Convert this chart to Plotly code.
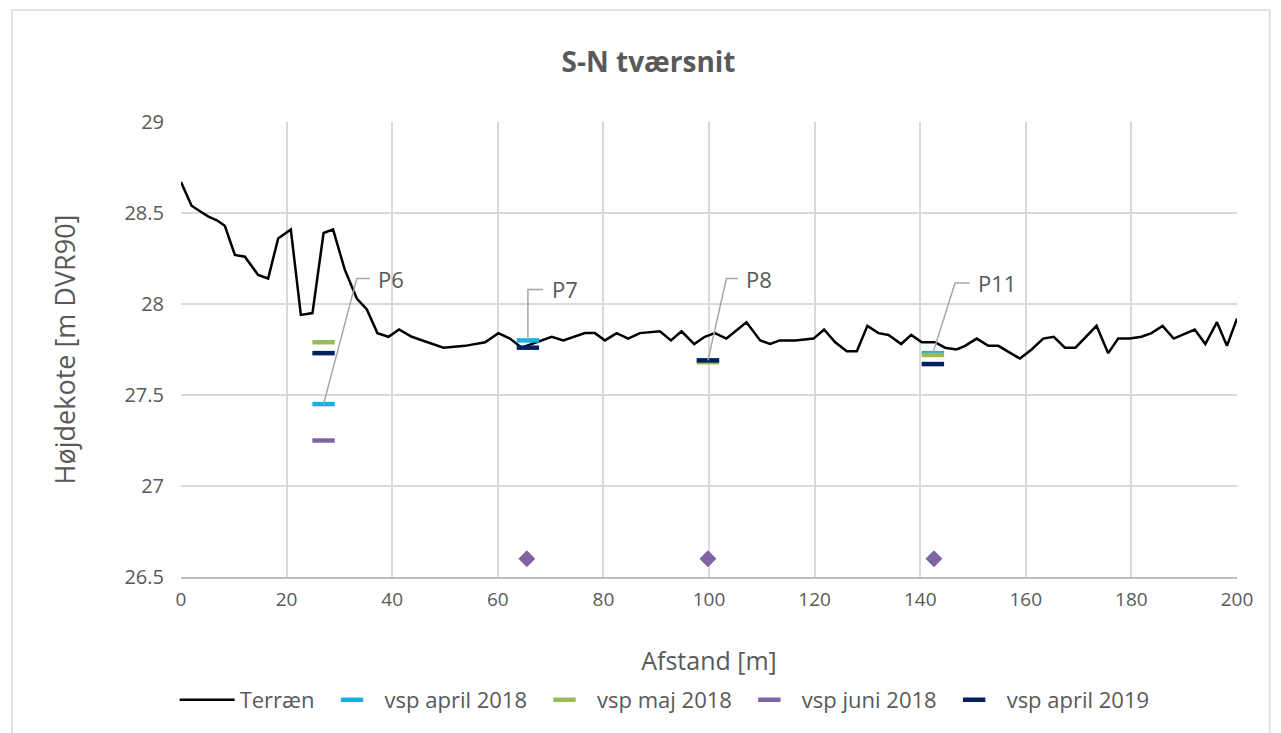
import plotly.graph_objects as go

# terrain profile (distance [m], elevation [m DVR90])
terrain_x = [0, 2, 3.6, 5.2, 6.8, 8.3, 10.2, 12.1, 14.6, 16.5, 18.4, 20.8, 22.7, 24.9, 27, 28.8,
             31, 33.3, 35.2, 37.2, 39.3, 41.3, 43.7, 46.8, 49.7, 53.8, 56, 57.6, 60.1, 62.3, 64.5,
             66.4, 68.3, 70.2, 72.4, 74.6, 76.5, 78.4, 80.3, 82.5, 84.7, 86.9, 88.8, 90.7, 92.8,
             94.8, 97.2, 99.2, 101.1, 103.3, 107.1, 109.7, 111.6, 113.4, 116.3, 119.8, 121.8,
             123.9, 126.1, 128, 130, 132.1, 134, 136.4, 138.3, 140.3, 142.8, 144.7, 146.9, 148.5,
             150.7, 152.9, 154.8, 157, 158.9, 161.1, 163.3, 165.3, 167.4, 169.4, 171.5, 173.4,
             175.6, 177.5, 179.7, 181.9, 183.8, 185.9, 188, 190, 192, 194, 196.2, 198.1, 200]
terrain_y = [28.67, 28.54, 28.51, 28.48, 28.46, 28.43, 28.27, 28.26, 28.16, 28.14, 28.36, 28.41,
             27.94, 27.95, 28.39, 28.41, 28.19, 28.03, 27.97, 27.84, 27.82, 27.86, 27.82, 27.79,
             27.76, 27.77, 27.78, 27.79, 27.84, 27.81, 27.76, 27.78, 27.80, 27.82, 27.80, 27.82,
             27.84, 27.84, 27.80, 27.84, 27.81, 27.84, 27.845, 27.85, 27.80, 27.85, 27.78, 27.82,
             27.84, 27.81, 27.90, 27.80, 27.78, 27.80, 27.80, 27.81, 27.86, 27.79, 27.74, 27.74,
             27.88, 27.84, 27.83, 27.78, 27.83, 27.79, 27.79, 27.76, 27.75, 27.77, 27.81, 27.77,
             27.77, 27.73, 27.70, 27.75, 27.81, 27.82, 27.76, 27.76, 27.82, 27.88, 27.73, 27.81,
             27.81, 27.82, 27.84, 27.88, 27.81, 27.835, 27.86, 27.78, 27.90, 27.77, 27.92]

# water levels in the wells
wells = ["P6", "P7", "P8", "P11"]
april2018_x = [27, 65.7, 99.8, 142.4]
april2018_y = [27.45, 27.80, 27.69, 27.73]
maj2018_x = [27, 99.8, 142.4]
maj2018_y = [27.79, 27.68, 27.72]
juni2018_x = [27]
juni2018_y = [27.25]
juni2018_dry_x = [65.5, 99.8, 142.6]
juni2018_dry_y = [26.6, 26.6, 26.6]
april2019_x = [27, 65.7, 99.8, 142.4]
april2019_y = [27.73, 27.76, 27.69, 27.67]

grey_text = "#595959"
font = "Open Sans"

fig = go.Figure()

fig.add_trace(go.Scatter(x=terrain_x, y=terrain_y, mode="lines", name="Terræn",
                         line=dict(color="black", width=2.5)))


def add_level(x, y, name, color):
    fig.add_trace(go.Scatter(
        x=x, y=y, mode="markers", name=name,
        marker=dict(symbol="line-ew", size=16, line=dict(color=color, width=4.5))
    ))


add_level(april2018_x, april2018_y, "vsp april 2018", "#1AAEE6")
add_level(maj2018_x, maj2018_y, "vsp maj 2018", "#9BBB59")
add_level(juni2018_x, juni2018_y, "vsp juni 2018", "#8064A2")
add_level(april2019_x, april2019_y, "vsp april 2019", "#002060")

fig.add_trace(go.Scatter(x=juni2018_dry_x, y=juni2018_dry_y, mode="markers", showlegend=False,
                         marker=dict(symbol="diamond", size=13, color="#8064A2")))

# labels with leader lines (offsets in data units: elbow dx, elbow y, end dx)
leader = [(6.3, 28.14, 8.8), (0.0, 28.08, 2.9), (3.5, 28.14, 5.7), (4.2, 28.115, 7.0)]
for name, x0, y0, (dx, ly, ex) in zip(wells, april2018_x, april2018_y, leader):
    fig.add_shape(type="path", xref="x", yref="y",
                  path=f"M {x0},{y0} L {x0 + dx},{ly} L {x0 + ex},{ly}",
                  line=dict(color="#A6A6A6", width=1.5))
    fig.add_annotation(x=x0 + ex + 1.2, y=ly, text=name, showarrow=False, xanchor="left",
                       font=dict(size=22, color=grey_text, family=font))

# chart border
fig.add_shape(type="rect", xref="paper", yref="paper", x0=-0.16, x1=1.031, y0=-0.4, y1=1.246,
              line=dict(color="#D9D9D9", width=1.5), layer="below")

# page body has an 8px margin, so the figure is offset by 8px right and down
fig.update_layout(
    title=dict(text="<b>S-N tværsnit</b>", x=0.5, xanchor="center", y=0.926, yanchor="middle",
               font=dict(size=28, color=grey_text, family=font)),
    width=1281, height=733,
    margin=dict(l=173, r=52, t=114, b=164),
    paper_bgcolor="white", plot_bgcolor="white",
    font=dict(family=font, color=grey_text, size=18),
    xaxis=dict(range=[0, 200], dtick=20, showgrid=True, gridcolor="#D9D9D9", gridwidth=1.5,
               zeroline=False, showline=True, linecolor="#BFBFBF", linewidth=1.5,
               ticks="", tickfont=dict(size=19, color=grey_text), ticklabelstandoff=4,
               automargin=False,
               title=dict(text="Afstand [m]", standoff=42, font=dict(size=25, color=grey_text))),
    yaxis=dict(range=[26.5, 29], dtick=0.5, showgrid=True, gridcolor="#D9D9D9", gridwidth=1.5,
               zeroline=False, ticks="", tickfont=dict(size=20, color=grey_text),
               ticklabelstandoff=16, automargin=False,
               title=dict(text="Højdekote [m DVR90]", standoff=40, font=dict(size=27, color=grey_text))),
    legend=dict(orientation="h", x=0.458, xanchor="center",
                yref="container", y=1 - 692 / 733, yanchor="middle",
                font=dict(size=22, color=grey_text), itemwidth=55, tracegroupgap=0),
    showlegend=True,
)

fig.write_html("out.html")
